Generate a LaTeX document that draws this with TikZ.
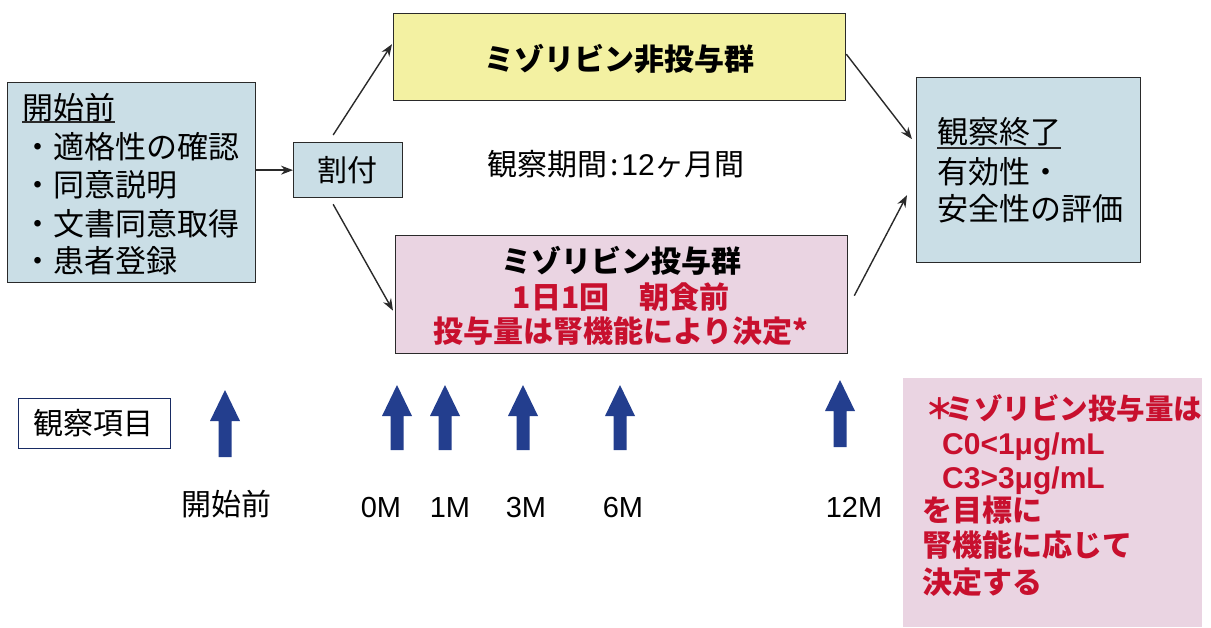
\documentclass[tikz,border=0pt]{standalone}
\usepackage{fontspec}
\setmainfont{Noto Sans CJK JP}
\newfontfamily\lat{Liberation Sans}
\usetikzlibrary{arrows.meta,calc}
\definecolor{boxblue}{HTML}{CADEE6}
\definecolor{boxyellow}{HTML}{F3F1A2}
\definecolor{boxpink}{HTML}{EAD4E2}
\definecolor{txtred}{HTML}{C8102E}
\definecolor{navy}{HTML}{233E8E}
\definecolor{linegray}{HTML}{2A2A2A}
\newcommand{\blkarrow}[3]{\fill[navy] (#1-6.5,#3) -- (#1-6.5,#2+31) -- (#1-15,#2+31) -- (#1,#2) -- (#1+15,#2+31) -- (#1+6.5,#2+31) -- (#1+6.5,#3) -- cycle;}
\begin{document}
\begin{tikzpicture}[x=1pt,y=-1pt,
  box/.style={draw=linegray, line width=1.3pt, inner sep=0pt, anchor=north west},
  txt/.style={inner sep=0pt, anchor=base west, font=\fontsize{31}{36}\selectfont},
  ctxt/.style={inner sep=0pt, anchor=base, font=\fontsize{30}{36}\selectfont},
  btxt/.style={txt, font=\fontsize{30}{36}\selectfont\bfseries},
  bctxt/.style={ctxt, font=\fontsize{30}{36}\selectfont\bfseries},
  lbl/.style={inner sep=0pt, anchor=base, font=\fontsize{29}{34}\selectfont\lat},
  conn/.style={draw=linegray, line width=1.4pt, -{Stealth[length=12pt,width=9pt]}},
  uline/.style={line width=1.3pt, draw=linegray}
]
\useasboundingbox (0,0) rectangle (1211,627);

% boxes
\node[box, fill=boxblue, minimum width=248pt, minimum height=200pt] (pre) at (7,82) {};
\node[box, fill=boxblue, minimum width=109pt, minimum height=55pt] (wari) at (293,142) {};
\node[box, fill=boxyellow, minimum width=452pt, minimum height=87pt] (nonadm) at (393,13) {};
\node[box, fill=boxpink, minimum width=452pt, minimum height=118pt] (adm) at (395,235) {};
\node[box, fill=boxblue, minimum width=224pt, minimum height=185pt] (obs) at (916,77) {};
\node[inner sep=0pt, anchor=north west, fill=boxpink, minimum width=299pt, minimum height=249pt] (note) at (903,378) {};
\node[draw=navy!70!black, line width=1pt, minimum width=152pt, minimum height=50pt, inner sep=0pt, font=\fontsize{30}{36}\selectfont] (items) at (94,423) {観察項目};

% left box text
\node[txt] (preT) at (22,119) {開始前};
\draw[uline] ($(preT.base west)+(0,3)$) -- ($(preT.base east)+(0,3)$);
\node[txt] (pre1) at (22,158) {・適格性の確認};
\node[txt] (pre2) at (22,196) {・同意説明};
\node[txt] (pre3) at (22,235) {・文書同意取得};
\node[txt] (pre4) at (22,272) {・患者登録};

% wari
\node[ctxt] (wariT) at (347,181) {割付};

% non-administration
\node[bctxt] (nonT) at (619,70) {ミゾリビン非投与群};

% administration
\node[bctxt] (adm1) at (621,272) {ミゾリビン投与群};
\node[bctxt, text=txtred] (adm2) at (621,308) {1日1回　朝食前};
\node[bctxt, text=txtred] (adm3) at (621,342) {投与量は腎機能により決定*};

% period
\node[ctxt] (period) at (616,175) {観察期間\hspace{3pt}:\hspace{3pt}{\lat 12}ヶ月間};

% end box
\node[txt] (obsT) at (937,143) {観察終了};
\draw[uline] ($(obsT.base west)+(0,5)$) -- ($(obsT.base east)+(0,5)$);
\node[txt] (obs1) at (937,183) {有効性・};
\node[txt] (obs2) at (937,220) {安全性の評価};

% connectors
\draw[conn] (pre.east |- wari.west) -- (wari.west);
\draw[conn] ($(wari.north)+(-15,-7)$) -- ($(nonadm.west)+(-1,-13)$);
\draw[conn] ($(wari.south)+(-15,6)$) -- ($(adm.west)+(-2,16)$);
\draw[conn] ($(nonadm.east)+(0,-3)$) -- ($(obs.west)+(-4,-31)$);
\draw[conn] ($(adm.east)+(6,1)$) -- ($(obs.west)+(-9,25)$);

% block arrows
\blkarrow{225}{390}{457}
\blkarrow{397}{385}{450}
\blkarrow{445}{385}{450}
\blkarrow{523}{385}{450}
\blkarrow{620}{385}{450}
\blkarrow{840}{380}{447}

% time labels
\node[ctxt] (t0) at (226,515) {開始前};
\node[lbl] (m0) at (381,517) {0M};
\node[lbl] (m1) at (450,517) {1M};
\node[lbl] (m3) at (526,517) {3M};
\node[lbl] (m6) at (623,517) {6M};
\node[lbl] (m12) at (854,517) {12M};

% note text
\node[inner sep=0pt, anchor=base west, text=txtred, font=\fontsize{28.5}{34}\selectfont\bfseries] (n1) at (925,419) {＊\hspace{-8pt}ミゾリビン投与量は};
\node[inner sep=0pt, anchor=base west, text=txtred, font=\fontsize{30}{36}\selectfont\lat\bfseries] (n2) at (942,454) {C0<1μg/mL};
\node[inner sep=0pt, anchor=base west, text=txtred, font=\fontsize{30}{36}\selectfont\lat\bfseries] (n3) at (942,488) {C3>3μg/mL};
\node[btxt, text=txtred] (n4) at (922,521) {を目標に};
\node[btxt, text=txtred] (n5) at (922,556) {腎機能に応じて};
\node[btxt, text=txtred] (n6) at (922,593) {決定する};
\end{tikzpicture}
\end{document}
